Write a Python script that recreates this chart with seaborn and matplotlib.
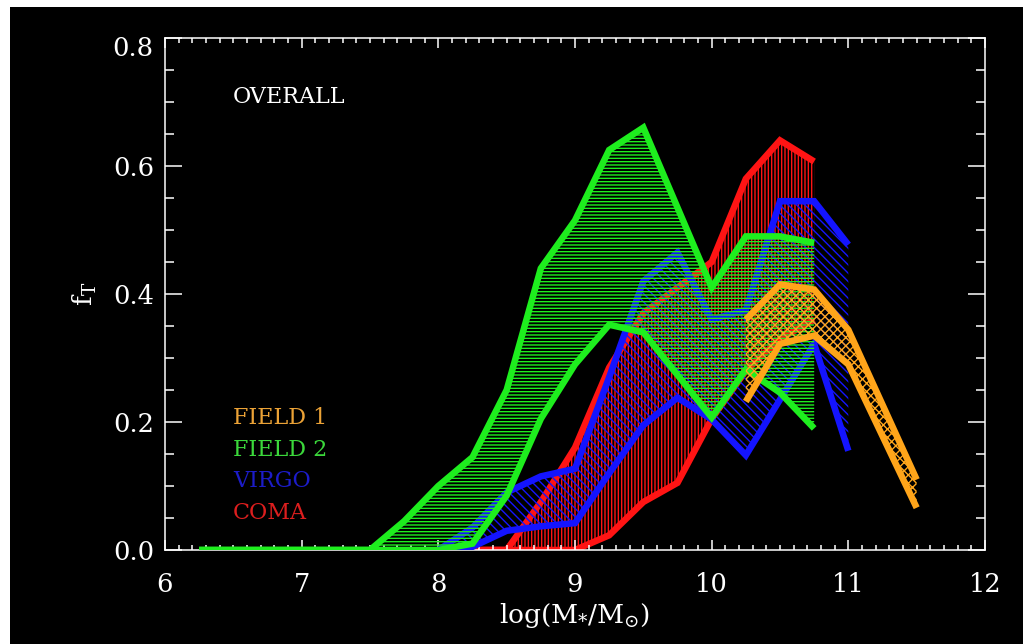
import matplotlib
matplotlib.use("Agg")
import matplotlib.pyplot as plt
import seaborn as sns
from matplotlib.ticker import MultipleLocator, FuncFormatter
from matplotlib.patches import Rectangle

# ---- data: fraction bands (lower / upper bound) vs log stellar mass ----
coma_mass = [8.0, 8.25, 8.5, 8.75, 9.0, 9.25, 9.5, 9.75, 10.0, 10.25, 10.5, 10.75]
coma_low = [0.0, 0.0, 0.0, 0.0, 0.0, 0.023, 0.075, 0.105, 0.205, 0.28, 0.33, 0.36]
coma_high = [0.0, 0.0, 0.0, 0.075, 0.16, 0.285, 0.37, 0.41, 0.45, 0.58, 0.64, 0.607]

virgo_mass = [8.0, 8.25, 8.5, 8.75, 9.0, 9.25, 9.5, 9.75, 10.0, 10.25, 10.5, 10.75, 11.0]
virgo_low = [0.0, 0.005, 0.03, 0.037, 0.042, 0.12, 0.195, 0.238, 0.204, 0.148, 0.235, 0.322, 0.155]
virgo_high = [0.0, 0.035, 0.09, 0.115, 0.127, 0.27, 0.42, 0.465, 0.36, 0.375, 0.545, 0.545, 0.477]

field2_mass = [6.25, 6.5, 6.75, 7.0, 7.25, 7.5, 7.75, 8.0, 8.25, 8.5, 8.75, 9.0, 9.25, 9.5,
               10.0, 10.25, 10.5, 10.75]
field2_low = [0.0, 0.0, 0.0, 0.0, 0.0, 0.0, 0.0, 0.0, 0.01, 0.085, 0.205, 0.29, 0.352, 0.34,
              0.207, 0.282, 0.246, 0.19]
field2_high = [0.0, 0.0, 0.0, 0.0, 0.0, 0.0, 0.045, 0.10, 0.145, 0.25, 0.44, 0.515, 0.625, 0.66,
               0.41, 0.49, 0.49, 0.48]

field1_mass = [10.25, 10.5, 10.75, 11.0, 11.5]
field1_low = [0.232, 0.322, 0.335, 0.29, 0.066]
field1_high = [0.36, 0.415, 0.407, 0.344, 0.11]

sample_names = ["FIELD 1", "FIELD 2", "VIRGO", "COMA"]
x_ticks = [6, 7, 8, 9, 10, 11, 12]
y_ticks = [0.0, 0.2, 0.4, 0.6, 0.8]

# ---- style ----
plt.rcParams["font.family"] = ["DejaVu Serif"]
plt.rcParams["mathtext.fontset"] = "dejavuserif"
plt.rcParams["hatch.linewidth"] = 1.0

C_RED = "#ff1414"
C_BLUE = "#1414ff"
C_GREEN = "#1eee1e"
C_ORANGE = "#ffa51a"
TXT_COLORS = ["#eba236", "#3bd83b", "#1c1cc8", "#dc1e1e"]

fig = plt.figure(figsize=(10.23, 6.44), dpi=100, facecolor="white")
fig.add_artist(Rectangle((10 / 1023, 0), 1, 637 / 644, transform=fig.transFigure,
                         facecolor="black", edgecolor="none", zorder=-10))
ax = fig.add_axes([165 / 1023, 94 / 644, 820 / 1023, 512 / 644])
ax.set_facecolor("black")

LW = 4.7
bands = [
    (coma_mass, coma_low, coma_high, C_RED, "|||||", 1),
    (virgo_mass, virgo_low, virgo_high, C_BLUE, "\\\\\\\\", 3),
    (field2_mass, field2_low, field2_high, C_GREEN, "-----", 5),
    (field1_mass, field1_low, field1_high, C_ORANGE, "xxxx", 7),
]
for mass, low, high, col, hatch, z in bands:
    ax.fill_between(mass, low, high, facecolor="none", edgecolor=col, hatch=hatch,
                    linewidth=0, zorder=z)
    for bound in (low, high):
        sns.lineplot(x=mass, y=bound, color=col, linewidth=LW, ax=ax, zorder=z + 0.5,
                     solid_joinstyle="miter", solid_capstyle="butt")

ax.set_xlim(6, 12)
ax.set_ylim(0, 0.8)
ax.set_xticks(x_ticks)
ax.set_yticks(y_ticks)
ax.xaxis.set_minor_locator(MultipleLocator(0.1))
ax.yaxis.set_minor_locator(MultipleLocator(0.05))
ax.xaxis.set_major_formatter(FuncFormatter(lambda v, p: f"{v:.0f}"))
# the top y label sits a little lower, drawn separately below
ax.yaxis.set_major_formatter(FuncFormatter(lambda v, p: "" if v > 0.79 else f"{v:.1f}"))

for s in ax.spines.values():
    s.set_color("white")
    s.set_linewidth(1.1)
ax.tick_params(which="both", direction="in", top=True, right=True, color="white",
               labelcolor="white", width=1.1, labelsize=18.5)
ax.tick_params(axis="x", which="major", length=7.2, pad=16)
ax.tick_params(axis="x", which="minor", length=3.6)
ax.tick_params(axis="y", which="major", length=12.2, pad=8)
ax.tick_params(axis="y", which="minor", length=6.5)
ax.text(-12 / 820, 1.0 - 11 / 512, "0.8", transform=ax.transAxes, ha="right", va="center",
        color="white", fontsize=18.5)

ax.set_xlabel(r"log(M$_{*}$/M$_{\odot}$)", color="white", fontsize=19)
ax.xaxis.set_label_coords(0.5, -0.1)
ax.set_ylabel(r"f$_{\rm T}$", color="white", fontsize=19)
ax.yaxis.set_label_coords(-0.0805, 0.5)

ax.text(68 / 820, 0.873, "OVERALL", transform=ax.transAxes, color="white", fontsize=16,
        va="baseline", ha="left")
for name, col, yb in zip(sample_names, TXT_COLORS, [0.246, 0.1836, 0.123, 0.0605]):
    ax.text(68 / 820, yb, name, transform=ax.transAxes, color=col, fontsize=16,
            va="baseline", ha="left")

fig.savefig("out.png", dpi=100, facecolor=fig.get_facecolor())
